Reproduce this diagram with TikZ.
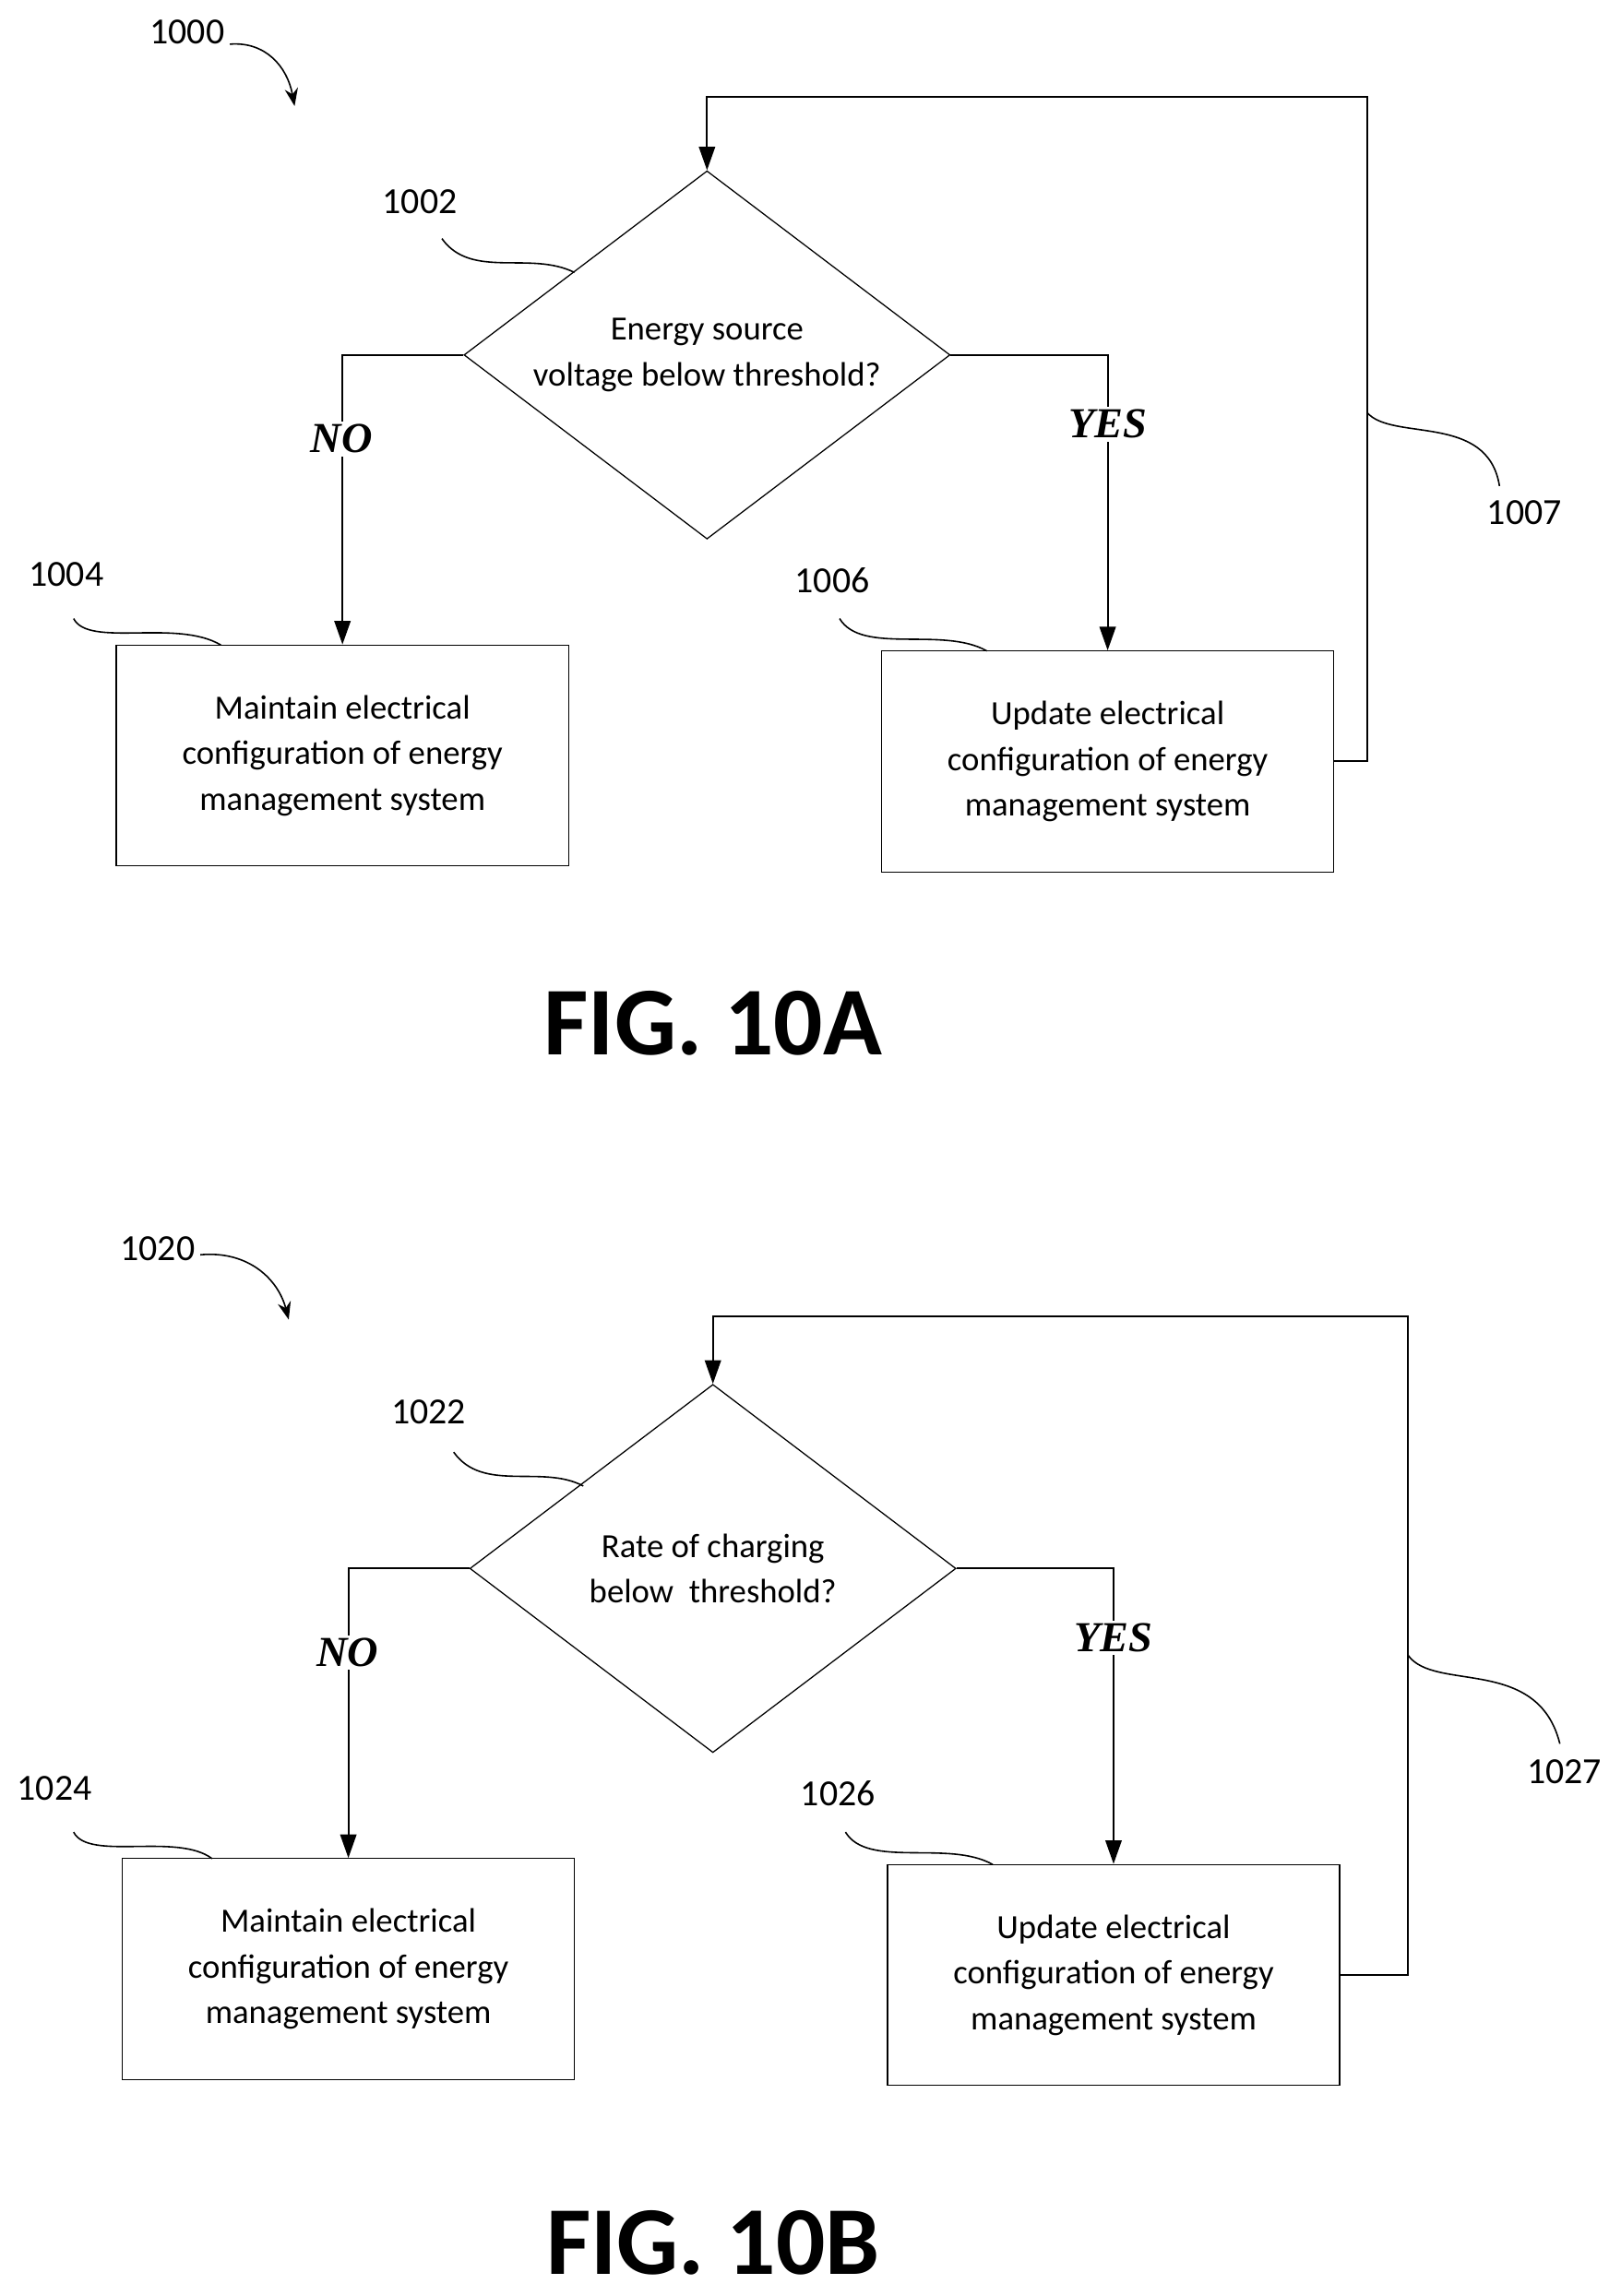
\documentclass[tikz,border=0pt]{standalone}
\usepackage{fontspec}
\setmainfont{Carlito}
\newfontfamily\serifit{Liberation Serif}
\usetikzlibrary{shapes.geometric,arrows.meta}
\begin{document}
\begin{tikzpicture}[x=1pt,y=-1pt,
  box/.style={draw,line width=0.8pt,minimum width=307pt,minimum height=150pt,align=center,font=\fontsize{23}{31}\selectfont,inner sep=0},
  dia/.style={draw,line width=0.8pt,diamond,minimum width=330pt,minimum height=250pt,aspect=1.32,align=center,font=\fontsize{23}{31}\selectfont,inner sep=0},
  ln/.style={line width=1.2pt},
  arr/.style={line width=1.2pt,-{Triangle[length=16pt,width=11pt]}},
  ref/.style={font=\fontsize{25}{30}\selectfont},
  yn/.style={font=\fontsize{29}{30}\selectfont\serifit\itshape\bfseries,fill=white,inner sep=2pt},
  fig/.style={font=\fontsize{66}{70}\selectfont\bfseries}]
\useasboundingbox (0,0) rectangle (1100,1559);
% ---------- FIG 10A
\node[ref] (r1000) at (127,22) {1000};
\coordinate (c1000) at (200,72);
\draw[line width=1pt,-{Stealth[length=12pt,width=9pt]}] (156,30) .. controls (180,28) and (195,45) .. (c1000);
\node[dia] (d1) at (480,241) {Energy source\\voltage below threshold?};
\node[box] (b1004) at (232.5,513) {Maintain electrical\\configuration of energy\\management system};
\node[box] (b1006) at (752,517) {Update electrical\\configuration of energy\\management system};
\draw[arr] (d1.west) -| (b1004.north);
\draw[arr] (d1.east) -| (b1006.north);
\coordinate (l1) at (928,66);
\draw[arr] (b1006.east) -| (l1) -| (d1.north);
\node[yn] (no1) at (232,298) {NO};
\node[yn] (yes1) at (752,288) {YES};
\node[ref] (r1002) at (285,137) {1002};
\draw[line width=1pt] (300,162) .. controls (320,190) and (360,170) .. (390,185);
\node[ref] (r1004) at (45,390) {1004};
\draw[line width=1pt] (50,420) .. controls (60,440) and (120,420) .. (150,438);
\node[ref] (r1006) at (565,394) {1006};
\draw[line width=1pt] (570,420) .. controls (585,445) and (640,425) .. (670,442);
\node[ref] (r1007) at (1035,348) {1007};
\draw[line width=1pt] (928,280) .. controls (945,300) and (1010,280) .. (1018,330);
\node[fig] (f1) at (484,695) {FIG. 10A};
% ---------- FIG 10B
\begin{scope}[shift={(4,824)}]
\node[ref] (r1020) at (103,24) {1020};
\coordinate (c1020) at (192,72);
\draw[line width=1pt,-{Stealth[length=12pt,width=9pt]}] (132,28) .. controls (165,25) and (185,45) .. (c1020);
\node[dia] (d2) at (480,241) {Rate of charging\\below\ \ threshold?};
\node[box] (b1024) at (232.5,513) {Maintain electrical\\configuration of energy\\management system};
\node[box] (b1026) at (752,517) {Update electrical\\configuration of energy\\management system};
\draw[arr] (d2.west) -| (b1024.north);
\draw[arr] (d2.east) -| (b1026.north);
\coordinate (l2) at (952,70);
\draw[arr] (b1026.east) -| (l2) -| (d2.north);
\node[yn] (no2) at (232,298) {NO};
\node[yn] (yes2) at (752,288) {YES};
\node[ref] (r1022) at (287,135) {1022};
\draw[line width=1pt] (304,162) .. controls (324,190) and (364,170) .. (392,185);
\node[ref] (r1024) at (33,390) {1024};
\draw[line width=1pt] (46,420) .. controls (56,440) and (116,420) .. (140,438);
\node[ref] (r1026) at (565,394) {1026};
\draw[line width=1pt] (570,420) .. controls (585,445) and (640,425) .. (670,442);
\node[ref] (r1027) at (1058,379) {1027};
\draw[line width=1pt] (952,300) .. controls (970,325) and (1040,300) .. (1055,360);
\node[fig] (f2) at (480,699) {FIG. 10B};
\end{scope}
\end{tikzpicture}
\end{document}
